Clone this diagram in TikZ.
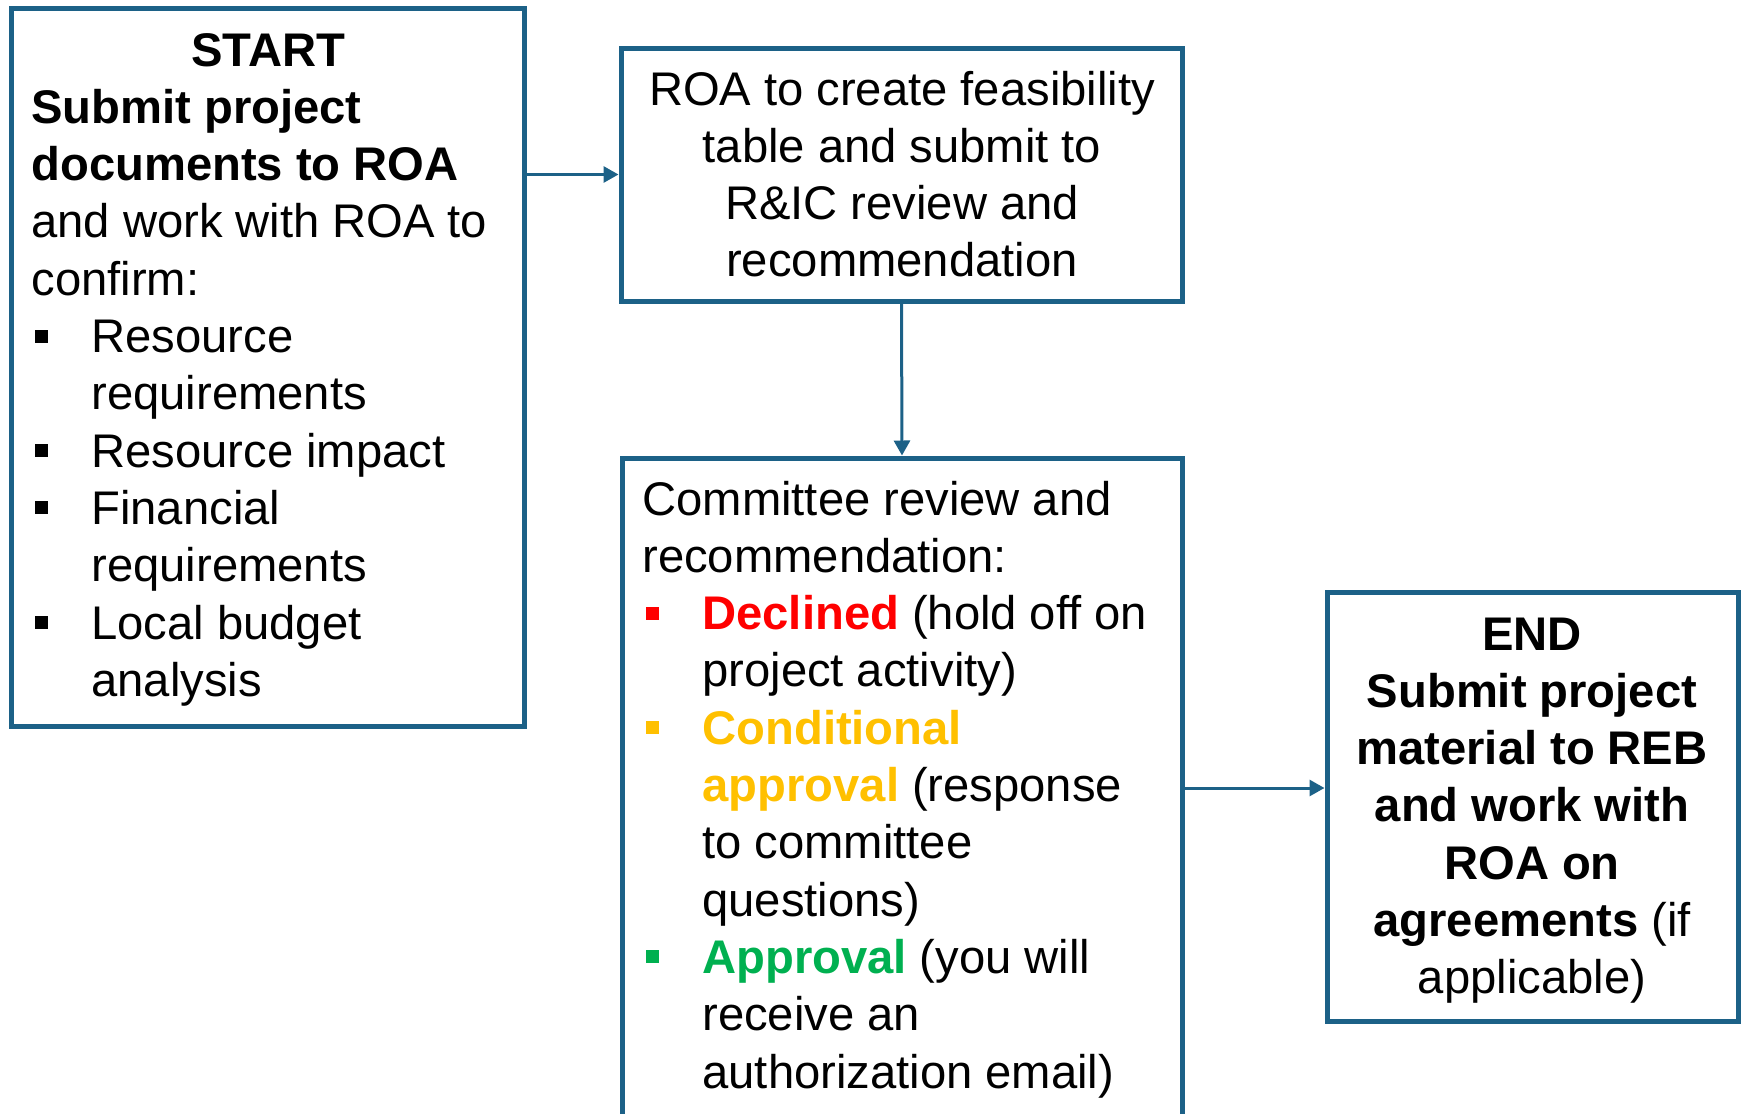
\documentclass[tikz,border=0pt]{standalone}
\usepackage{fontspec}
\setmainfont{Liberation Sans}
\usetikzlibrary{arrows.meta}
\definecolor{bord}{HTML}{1C6187}
\definecolor{dred}{HTML}{FF0000}
\definecolor{dyel}{HTML}{FFC000}
\definecolor{dgrn}{HTML}{00B050}
\newcommand{\bulmark}[1]{\makebox[30pt][l]{\hspace{1.75pt}\textcolor{#1}{\rule[5pt]{6.5pt}{6.5pt}}}}
\newcommand{\hangin}{\hspace*{30pt}}
\newcommand{\sfix}{\spaceskip=0.275em\relax}
\begin{document}
\begin{tikzpicture}[x=0.5pt,y=-0.5pt,
  box/.style={draw=bord,line width=2.5pt,rectangle,inner sep=0pt},
  txt/.style={inner sep=0pt,font=\fontsize{23.6}{28.65}\selectfont},
  arr/.style={draw=bord,line width=1.5pt,-{Triangle[length=7.5pt,width=8pt]}}]
\useasboundingbox (0,0) rectangle (1741,1114);
\node[box,minimum width=256.5pt,minimum height=359pt] (start) at (267.5,367) {};
\node[box,minimum width=280.5pt,minimum height=126.5pt] (roa) at (901.5,174.5) {};
\node[box,minimum width=280pt,minimum height=330pt] (comm) at (902,788) {};
\node[box,minimum width=205.5pt,minimum height=214.5pt] (endb) at (1532.5,806.5) {};

\draw[arr] (start.east |- roa.west) -- (roa.west);
\draw[arr] (roa.south) -- (comm.north);
\draw[arr] (comm.east) -- (comm.east -| endb.west);

\node[txt,anchor=base west,text width=260pt,align=left] (starttxt) at (31,66) {\sfix\makebox[237pt][c]{\bfseries START}\\
\textbf{Submit project}\\
\textbf{documents to ROA}\\
and work with ROA to\\
confirm:\\
\bulmark{black}Resource\\
\hangin requirements\\
\bulmark{black}Resource impact\\
\bulmark{black}Financial\\
\hangin requirements\\
\bulmark{black}Local budget\\
\hangin analysis};

\node[txt,anchor=base,text width=280pt,align=center] (roatxt) at (902,105) {\sfix ROA to create feasibility\\table and submit to\\R\&IC review and\\recommendation};

\node[txt,anchor=base west,text width=280pt,align=left] (commtxt) at (642,515) {\sfix Committee review and\\
recommendation:\\
\bulmark{dred}\textbf{\textcolor{dred}{Declined}} (hold off on\\
\hangin project activity)\\
\bulmark{dyel}\textbf{\textcolor{dyel}{Conditional}}\\
\hangin\textbf{\textcolor{dyel}{approval}} (response\\
\hangin to committee\\
\hangin questions)\\
\bulmark{dgrn}\textbf{\textcolor{dgrn}{Approval}} (you will\\
\hangin receive an\\
\hangin authorization email)};

\node[txt,anchor=base,text width=230pt,align=center] (endtxt) at (1532,650) {\sfix\textbf{END}\\
\textbf{Submit project}\\
\textbf{material to REB}\\
\textbf{and work with}\\
\textbf{ROA on}\\
\textbf{agreements} (if\\
applicable)};
\end{tikzpicture}
\end{document}
